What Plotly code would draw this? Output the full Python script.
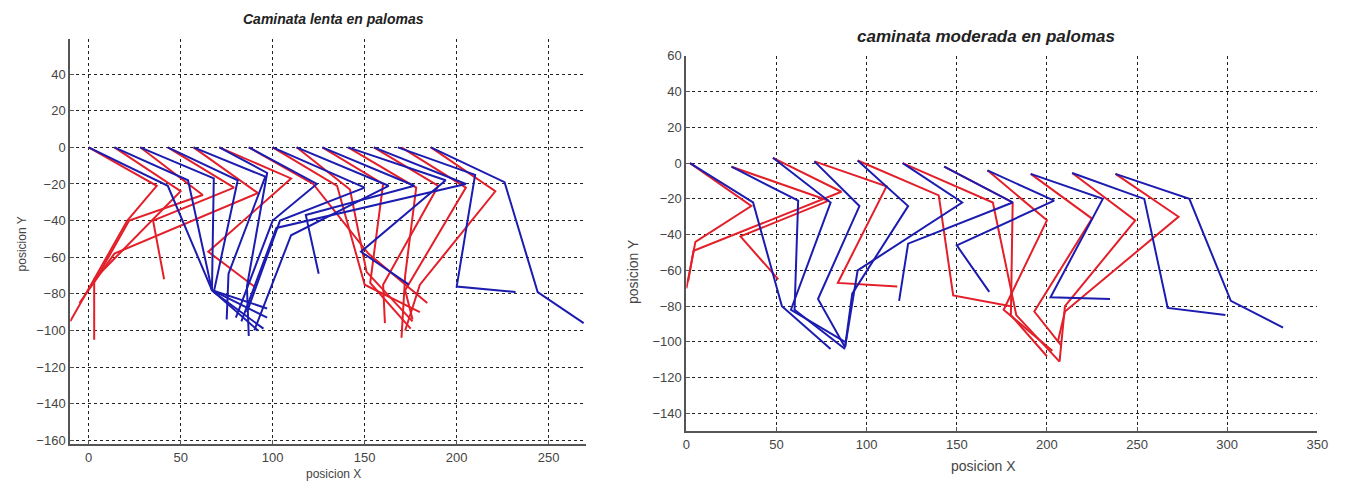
import plotly.graph_objects as go

# ---------------- data: slow walk (left) ----------------
# each leg: hip -> knee -> ankle -> toe
lenta_rojo_x = [
    [0, 37, 21, -10], [14, 50, 3, 3], [28, 62, 22, 4], [43, 79, 35, 41],
    [57, 92, 14, -5], [71, 110, 65, 90], [87, 122, 152, 184],
    [100, 135, 150, 180], [113, 142, 151, 176], [127, 160, 153, 175],
    [141, 178, 172, 170], [155, 190, 160, 161], [170, 205, 172, 176],
    [186, 221, 180, 172],
]
lenta_rojo_y = [
    [0, -21, -40, -95], [0, -24, -72, -105], [0, -26, -40, -72], [0, -22, -40, -72],
    [0, -25, -58, -85], [0, -17, -57, -76], [0, -20, -58, -85],
    [0, -21, -75, -90], [0, -23, -68, -95], [0, -20, -74, -99],
    [0, -22, -70, -104], [0, -21, -75, -96], [0, -22, -78, -94],
    [0, -24, -75, -100],
]
lenta_azul_x = [
    [0, 43, 67, 92], [14, 54, 67, 97], [28, 68, 67, 97], [43, 81, 68, 95],
    [57, 96, 76, 75], [71, 97, 86, 87], [87, 124, 100, 80],
    [100, 150, 104, 86], [113, 163, 110, 90], [127, 177, 118, 125],
    [141, 194, 148, 174], [155, 205, 102, 83], [168, 210, 200, 232],
    [186, 226, 244, 269],
]
lenta_azul_y = [
    [0, -21, -78, -100], [0, -18, -78, -88], [0, -17, -78, -93], [0, -18, -79, -99],
    [0, -16, -69, -94], [0, -14, -76, -103], [0, -20, -40, -93],
    [0, -22, -40, -90], [0, -21, -48, -100], [0, -21, -37, -69],
    [0, -18, -57, -75], [0, -20, -44, -95], [0, -15, -76, -79],
    [0, -19, -79, -96],
]

# ---------------- data: moderate walk (right) ----------------
moderada_rojo_x = [
    [2, 36, 5, 0], [48, 86, 4, 1], [25, 79, 30, 51], [71, 111, 84, 117],
    [95, 140, 148, 180], [120, 170, 183, 207], [143, 181, 180, 200],
    [167, 200, 176, 203], [191, 225, 193, 208], [214, 249, 210, 207],
    [238, 273, 210, 206],
]
moderada_rojo_y = [
    [0, -24, -44, -70], [3, -16, -49, -66], [-2, -21, -41, -65], [1, -13, -67, -69],
    [1.5, -18, -74, -80], [0, -22, -85, -111], [-2, -22, -85, -108],
    [-4, -32, -82, -105], [-6, -31, -83, -102], [-5.5, -32, -80, -111],
    [-6, -30, -83, -100],
]
moderada_azul_x = [
    [2, 37, 53, 80], [25, 62, 60, 88], [48, 80, 58, 88], [71, 96, 73, 88],
    [95, 123, 92, 88], [120, 153, 95, 88], [143, 181, 123, 118],
    [167, 204, 150, 168], [191, 231, 202, 235], [214, 254, 267, 299],
    [238, 279, 302, 331],
]
moderada_azul_y = [
    [0, -22, -80, -104], [-2, -21, -82, -104], [3, -22, -82, -100], [1, -24, -76, -103],
    [1.5, -24, -73, -103], [0, -22, -60, -103], [-2, -22, -45, -77],
    [-4, -21, -46, -72], [-6, -20, -75, -76], [-5.5, -20, -81, -85],
    [-6, -20, -77, -92],
]

ROJO = "#e3202a"
AZUL = "#1c1cb0"


def join(legs_x, legs_y):
    xs, ys = [], []
    for lx, ly in zip(legs_x, legs_y):
        xs += list(lx) + [None]
        ys += list(ly) + [None]
    return xs, ys


fig = go.Figure()
for (lx, ly, col, xa, ya) in [
    (lenta_rojo_x, lenta_rojo_y, ROJO, "x", "y"),
    (lenta_azul_x, lenta_azul_y, AZUL, "x", "y"),
    (moderada_rojo_x, moderada_rojo_y, ROJO, "x2", "y2"),
    (moderada_azul_x, moderada_azul_y, AZUL, "x2", "y2"),
]:
    xs, ys = join(lx, ly)
    fig.add_trace(go.Scatter(x=xs, y=ys, mode="lines", xaxis=xa, yaxis=ya,
                             line=dict(color=col, width=2), showlegend=False,
                             connectgaps=False))

W, H = 1359, 493
FAM = "Liberation Sans, Arial, sans-serif"
font_tick = dict(family=FAM, size=13, color="#444")
common = dict(showgrid=True, gridcolor="#222", griddash="dot", gridwidth=1,
              zeroline=False, showline=True, linecolor="#555", linewidth=2,
              ticks="inside", ticklen=4, tickcolor="#555", tickfont=font_tick,
              mirror=False)


def ann(text, x, y, size, color="#444", angle=0):
    return dict(text=text, x=x / W, y=1 - y / H, xref="paper", yref="paper",
                xanchor="center", yanchor="middle", showarrow=False, textangle=angle,
                font=dict(family=FAM, size=size, color=color))


fig.update_layout(
    width=W, height=H,
    margin=dict(l=0, r=0, t=0, b=0),
    paper_bgcolor="white", plot_bgcolor="white",
    xaxis=dict(domain=[67 / W, 588 / W], range=[-10, 270], tickvals=[0, 50, 100, 150, 200, 250],
               anchor="y", **common),
    yaxis=dict(domain=[1 - 447 / H, 1 - 33 / H], range=[-162, 59],
               tickvals=[-160, -140, -120, -100, -80, -60, -40, -20, 0, 20, 40],
               anchor="x", **common),
    xaxis2=dict(domain=[690 / W, 1328 / W], range=[0, 350], tickvals=[0, 50, 100, 150, 200, 250, 300, 350],
                anchor="y2", **common),
    yaxis2=dict(domain=[1 - 434 / H, 1 - 50 / H], range=[-150, 60],
                tickvals=[-140, -120, -100, -80, -60, -40, -20, 0, 20, 40, 60],
                anchor="x2", **common),
    annotations=[
        ann("<b><i>Caminata lenta en palomas</i></b>", 333, 12, 14, "#222"),
        ann("<b><i>caminata moderada en palomas</i></b>", 993, 30, 17, "#222"),
        ann("posicion X", 333, 478, 12),
        ann("posicion X", 990, 469, 14),
        ann("posicion Y", 18, 242, 12, angle=-90),
        ann("posicion Y", 636, 270, 14, angle=-90),
    ],
)

fig.write_html("out.html")
